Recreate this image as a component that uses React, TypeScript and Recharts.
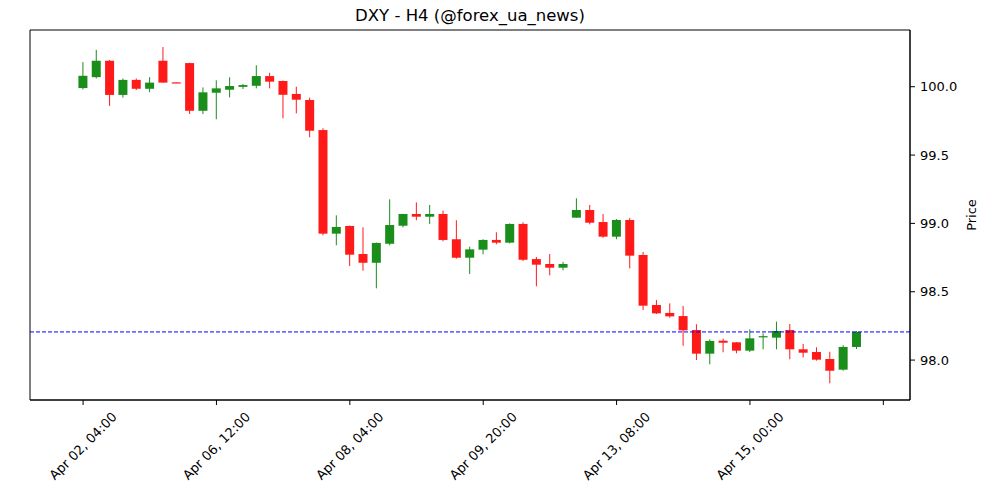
import { ComposedChart, Bar, XAxis, YAxis, ReferenceLine, ReferenceArea } from 'recharts'

// H4 candles, one entry per bar
const opens = [
  99.99, 100.07, 100.19, 99.94, 100.05, 99.985, 100.19, 100.032, 100.173, 99.824,
  99.956, 99.978, 99.999, 100.007, 100.078, 100.042, 99.947, 99.903, 99.683, 98.925,
  98.981, 98.776, 98.712, 98.851, 98.983, 99.069, 99.049, 99.069, 98.884, 98.749,
  98.808, 98.879, 98.859, 98.996, 98.739, 98.703, 98.676, 99.042, 99.098, 99.01,
  98.903, 99.025, 98.769, 98.403, 98.345, 98.322, 98.22, 98.047, 98.142, 98.13,
  98.069, 98.17, 98.164, 98.22, 98.079, 98.059, 98.008, 97.93, 98.096,
]
const highs = [
  100.18, 100.27, 100.195, 100.06, 100.06, 100.07, 100.29, 100.034, 100.175, 99.995,
  100.047, 100.069, 100.02, 100.157, 100.102, 100.045, 100.0, 99.92, 99.696, 99.059,
  98.985, 98.971, 98.86, 99.176, 99.07, 99.154, 99.135, 99.093, 99.023, 98.83,
  98.884, 98.935, 99.0, 99.008, 98.754, 98.776, 98.718, 99.184, 99.135, 99.069,
  99.032, 99.04, 98.791, 98.44, 98.415, 98.396, 98.262, 98.152, 98.157, 98.132,
  98.225, 98.196, 98.281, 98.264, 98.118, 98.094, 98.061, 98.108, 98.213,
]
const lows = [
  99.98, 100.06, 99.86, 99.92, 99.975, 99.96, 100.03, 100.028, 99.8, 99.8,
  99.762, 99.922, 99.983, 99.988, 99.988, 99.769, 99.805, 99.63, 98.913, 98.84,
  98.688, 98.654, 98.525, 98.84, 98.971, 99.023, 98.996, 98.869, 98.742, 98.63,
  98.774, 98.847, 98.854, 98.725, 98.54, 98.62, 98.657, 99.04, 98.993, 98.895,
  98.884, 98.671, 98.366, 98.337, 98.31, 98.105, 98.0, 97.969, 98.057, 98.05,
  98.059, 98.079, 98.079, 98.006, 98.02, 97.996, 97.83, 97.922, 98.081,
]
const closes = [
  100.08, 100.19, 99.94, 100.05, 99.985, 100.03, 100.03, 100.03, 99.824, 99.959,
  99.988, 100.005, 100.012, 100.078, 100.037, 99.941, 99.905, 99.678, 98.925, 98.974,
  98.771, 98.712, 98.857, 98.988, 99.069, 99.049, 99.069, 98.879, 98.749, 98.81,
  98.879, 98.859, 98.996, 98.734, 98.698, 98.676, 98.703, 99.098, 99.005, 98.903,
  99.025, 98.764, 98.398, 98.342, 98.32, 98.218, 98.047, 98.14, 98.127, 98.069,
  98.159, 98.175, 98.213, 98.079, 98.054, 98.003, 97.922, 98.096, 98.206,
]

const tickIndex = [0, 10, 20, 30, 40, 50, 60]
const tickLabels = ['Apr 02, 04:00', 'Apr 06, 12:00', 'Apr 08, 04:00', 'Apr 09, 20:00', 'Apr 13, 08:00', 'Apr 15, 00:00', '']
const priceTicks = [98, 98.5, 99, 99.5, 100]
const lastPrice = 98.206

const xDomain = [-3.98, 62]
const yDomain = [97.708, 100.415]

const data = opens.map((o, i) => ({
  i,
  open: o,
  high: highs[i],
  low: lows[i],
  close: closes[i],
  range: [lows[i], highs[i]],
}))

const UP = '#1a8d1a'
const DOWN = '#ff1a1a'

function Candle(props: any) {
  const { x, y, width, height, payload } = props
  const { open, close, high, low } = payload
  const color = close >= open ? UP : DOWN
  const top = Math.min(y, y + height)
  const h = Math.abs(height)
  const k = high > low ? h / (high - low) : 0
  const yO = top + (high - open) * k
  const yC = top + (high - close) * k
  const cx = x + width / 2
  return (
    <g>
      <line x1={cx} x2={cx} y1={top} y2={top + h} stroke={color} strokeWidth={1} />
      <rect x={x} y={Math.min(yO, yC)} width={width} height={Math.max(Math.abs(yO - yC), 1.2)} fill={color} />
    </g>
  )
}

function DateTick({ x, y, payload }: any) {
  const label = tickLabels[tickIndex.indexOf(payload.value)] ?? ''
  const cy = y + 41
  return (
    <text x={x} y={cy} textAnchor="middle" dominantBaseline="central"
      transform={`rotate(-45 ${x} ${cy})`} fontSize={13} fill="#000">
      {label}
    </text>
  )
}

export default function App() {
  const font = '"DejaVu Sans", sans-serif'
  return (
    <div style={{ position: 'absolute', left: 0, top: 0, width: 1000, height: 500, background: '#fff', fontFamily: font }}>
      <div style={{ position: 'absolute', left: 30, width: 880, top: 6, textAlign: 'center', fontSize: 16.5, lineHeight: '20px', color: '#000' }}>
        DXY - H4 (@forex_ua_news)
      </div>
      <ComposedChart width={1000} height={500} data={data} margin={{ top: 30, right: 0, left: 30, bottom: 0 }}
        style={{ fontFamily: font }}>
        <XAxis dataKey="i" type="number" domain={xDomain} allowDataOverflow ticks={tickIndex}
          interval={0} height={100} tickSize={5} tickMargin={0} stroke="#000" tick={<DateTick />} />
        <YAxis orientation="right" domain={yDomain} allowDataOverflow ticks={priceTicks}
          width={90} tickSize={5} tickMargin={5} stroke="#000"
          tick={{ fill: '#000', fontSize: 13 }} tickFormatter={(v: number) => v.toFixed(1)}
          label={{ value: 'Price', angle: -90, position: 'center', dx: 16, fill: '#000', fontSize: 13 }} />
        <ReferenceArea x1={xDomain[0]} x2={xDomain[1]} y1={yDomain[0]} y2={yDomain[1]}
          fill="none" fillOpacity={0} stroke="#000" strokeWidth={1} strokeOpacity={1} />
        <Bar dataKey="range" barSize={9} shape={<Candle />} isAnimationActive={false} />
        <ReferenceLine y={lastPrice} stroke="#0000ff" strokeDasharray="4 2" strokeWidth={1} />
      </ComposedChart>
    </div>
  )
}
